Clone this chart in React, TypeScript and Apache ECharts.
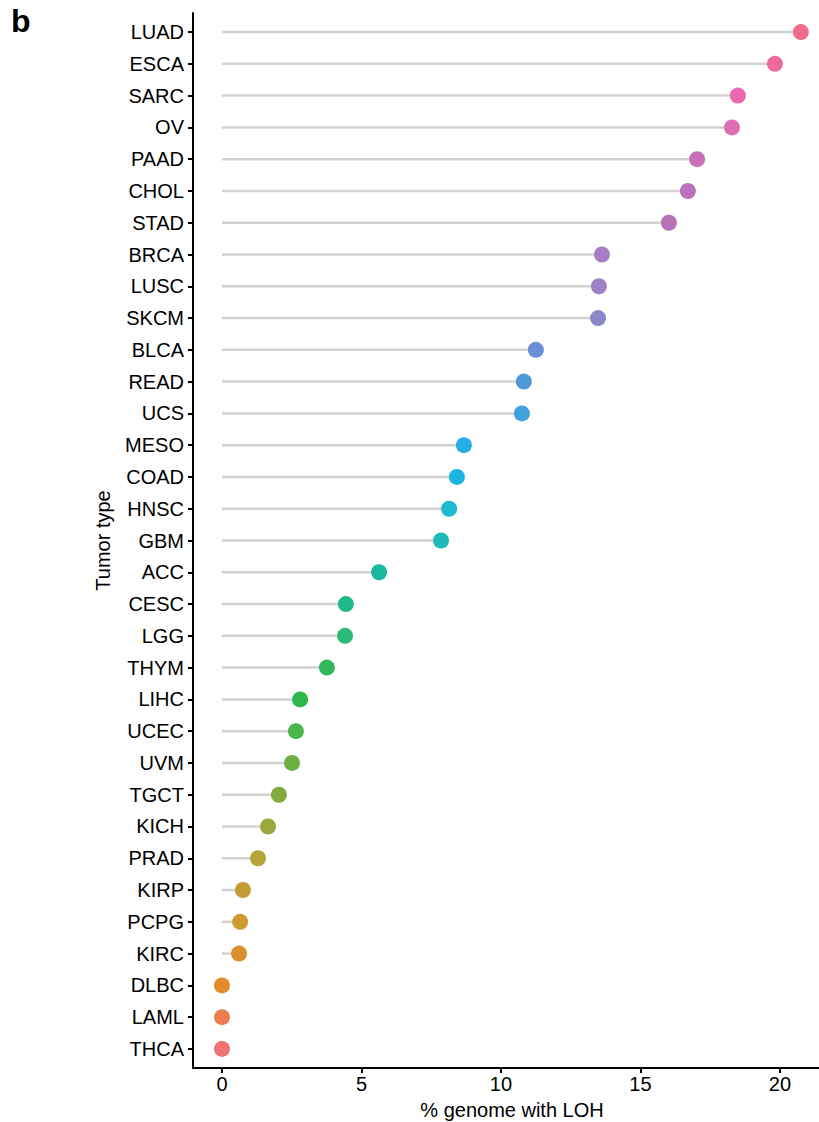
import React, { useEffect, useRef } from "react";
import * as echarts from "echarts";

// Tumor types, top to bottom
const tumorTypes: string[] = [
  "LUAD", "ESCA", "SARC", "OV", "PAAD", "CHOL", "STAD", "BRCA", "LUSC", "SKCM",
  "BLCA", "READ", "UCS", "MESO", "COAD", "HNSC", "GBM", "ACC", "CESC", "LGG",
  "THYM", "LIHC", "UCEC", "UVM", "TGCT", "KICH", "PRAD", "KIRP", "PCPG", "KIRC",
  "DLBC", "LAML", "THCA",
];

// % genome with LOH per tumor type (same order)
const lohPercent: number[] = [
  20.75, 19.82, 18.49, 18.28, 17.03, 16.70, 16.02, 13.62, 13.51, 13.48,
  11.25, 10.82, 10.75, 8.67, 8.42, 8.14, 7.85, 5.63, 4.44, 4.41,
  3.76, 2.80, 2.65, 2.51, 2.04, 1.65, 1.29, 0.75, 0.65, 0.61,
  0, 0, 0,
];

// point colour per tumor type (same order)
const pointColors: string[] = [
  "#F06C88", "#EE69A0", "#EC68AE", "#E06DB0", "#C770B8", "#BA72BC", "#B873B7",
  "#A87DC8", "#9E82C8", "#8C87C6", "#6B8FD6", "#4E98D8", "#40A2DF", "#26AEE8",
  "#1AB5E0", "#1DBAD0", "#1DBBB8", "#18B9A0", "#22B98A", "#2BB97A", "#34B85E",
  "#2DB84C", "#4CB648", "#6CB040", "#82AA3C", "#9AA83C", "#B5A43A", "#C49C34",
  "#CF9A30", "#D8902C", "#E38A2A", "#EC7E4E", "#F07272",
];

const xTicks: number[] = [0, 5, 10, 15, 20];

const FONT = "'Liberation Sans', Arial, sans-serif";
const FS = 20;

export default function App() {
  const ref = useRef<HTMLDivElement>(null);

  useEffect(() => {
    document.body.style.margin = "0";
    if (!ref.current) return;
    const chart = echarts.init(ref.current, undefined, { renderer: "svg" });
    const n = tumorTypes.length;

    const stems = lohPercent.map((v, i) => [v, i]);
    const dots = lohPercent.map((v, i) => ({
      value: [v, i],
      itemStyle: { color: pointColors[i], opacity: 1 },
    }));

    chart.setOption({
      animation: false,
      backgroundColor: "#ffffff",
      grid: { left: 193, right: 0, top: 13, bottom: 54, containLabel: false },
      graphic: [
        {
          type: "text",
          left: 11,
          top: 5,
          style: { text: "b", font: `bold 32px ${FONT}`, fill: "#000" },
        },
        {
          type: "text",
          x: 512,
          y: 1110,
          style: {
            text: "% genome with LOH",
            font: `${FS}px ${FONT}`,
            fill: "#000",
            align: "center",
            verticalAlign: "middle",
          },
        },
      ],
      xAxis: {
        type: "value",
        min: -1.04,
        max: 21.4,
        splitLine: { show: false },
        axisLine: { show: true, onZero: false, lineStyle: { color: "#000", width: 2 } },
        axisTick: { show: true, length: 5, lineStyle: { color: "#000", width: 2 }, customValues: xTicks },
        axisLabel: { color: "#000", fontSize: FS, fontFamily: FONT, margin: 6, customValues: xTicks },
      },
      yAxis: {
        type: "value",
        inverse: true,
        min: -0.6,
        max: n - 1 + 0.6,
        splitLine: { show: false },
        axisLine: { show: true, onZero: false, lineStyle: { color: "#000", width: 2 } },
        axisTick: {
          show: true,
          length: 5,
          lineStyle: { color: "#000", width: 2 },
          customValues: tumorTypes.map((_, i) => i),
        },
        axisLabel: {
          color: "#000",
          fontSize: FS,
          fontFamily: FONT,
          margin: 9,
          customValues: tumorTypes.map((_, i) => i),
          formatter: (v: number) => tumorTypes[Math.round(v)] ?? "",
        },
        name: "Tumor type",
        nameLocation: "middle",
        nameGap: 80,
        nameTextStyle: { color: "#000", fontSize: FS, fontFamily: FONT },
      },
      series: [
        {
          type: "custom",
          data: stems,
          renderItem: (params: any, api: any) => {
            const v = api.value(0);
            const i = api.value(1);
            const p0 = api.coord([0, i]);
            const p1 = api.coord([v, i]);
            return {
              type: "line",
              shape: { x1: p0[0], y1: p0[1], x2: p1[0], y2: p1[1] },
              style: { stroke: "#d3d3d3", lineWidth: 2.5 },
            };
          },
          z: 1,
        },
        {
          type: "scatter",
          data: dots,
          symbol: "circle",
          symbolSize: 16,
          z: 2,
        },
      ],
    });

    return () => chart.dispose();
  }, []);

  return <div ref={ref} style={{ width: 819, height: 1122 }} />;
}
